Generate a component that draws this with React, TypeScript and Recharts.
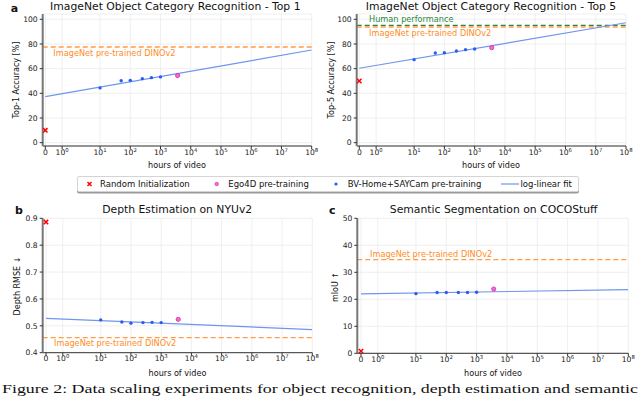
import React from "react";
import {
  ComposedChart,
  Line,
  Scatter,
  XAxis,
  YAxis,
  CartesianGrid,
  ReferenceLine,
} from "recharts";

// hours of video for each group of runs
const bvHours = [10, 50, 100, 250, 500, 1000];
const egoHours = [3670];
const randomHours = [0];
const fitHours = [0, 1e8];
const tickHours = [0, 1, 10, 100, 1e3, 1e4, 1e5, 1e6, 1e7, 1e8];

// a: top-1 accuracy
const top1Bv = [44.4, 50.2, 50.5, 51.9, 52.7, 53.3];
const top1Ego = [54.4];
const top1Random = [10.0];
const top1Fit = [37.3, 75.1];
const top1Dino = 77.6;

// top-5 accuracy
const top5Bv = [67.3, 72.7, 72.9, 74.3, 75.4, 75.9];
const top5Ego = [77.0];
const top5Random = [50.0];
const top5Fit = [60.3, 97.2];
const top5Dino = 93.8;
const top5Human = 95.1;

// b: depth rmse
const depthBv = [0.522, 0.514, 0.51, 0.512, 0.513, 0.512];
const depthEgo = [0.524];
const depthRandom = [0.886];
const depthFit = [0.528, 0.486];
const depthDino = 0.456;

// c: segmentation miou
const segBv = [22.1, 22.5, 22.5, 22.5, 22.5, 22.6];
const segEgo = [23.8];
const segRandom = [0.8];
const segFit = [22.0, 23.6];
const segDino = 34.7;

const ORANGE = "#ff9c45";
const ORANGE_TXT = "#ff8c1f";
const GREEN = "#2e8540";
const FIT = "#6e96ee";
const BLUE = "#2a5cf5";

// symlog, linthresh 2 (like matplotlib)
const symlog = (h: number) => {
  const lin = 1 / (1 - 1 / 10);
  return h <= 2 ? (h / 2) * lin : lin + Math.log10(h / 2);
};
const xMax = symlog(1e8);

const pts = (hours: number[], vals: number[]) =>
  hours.map((h, i) => ({ x: symlog(h), y: vals[i] }));

const XTick = (props: any) => {
  const { x, y, payload } = props;
  const i = tickHours.findIndex((h) => Math.abs(symlog(h) - payload.value) < 1e-6);
  const h = tickHours[i];
  return (
    <text x={x} y={y + 4.5} textAnchor="middle" fontSize={7.6} fill="#222">
      {h === 0 ? (
        "0"
      ) : (
        <>
          10
          <tspan dy={-3} fontSize={5.3}>
            {Math.round(Math.log10(h))}
          </tspan>
        </>
      )}
    </text>
  );
};

const blueDot = (p: any) => <circle cx={p.cx} cy={p.cy} r={1.7} fill={BLUE} />;
const pinkDot = (p: any) => (
  <circle cx={p.cx} cy={p.cy} r={2.1} fill="#f36ad0" stroke="#d52aa8" strokeWidth={0.8} />
);
const redCross = (p: any) => {
  const { cx, cy } = p;
  const s = 2.2;
  return (
    <path
      d={`M${cx - s},${cy - s}L${cx + s},${cy + s}M${cx - s},${cy + s}L${cx + s},${cy - s}`}
      stroke="#f00"
      strokeWidth={1.5}
    />
  );
};

type PanelProps = {
  box: number[];
  plot: number[];
  xMin: number;
  yDomain: number[];
  yTicks: number[];
  yFmt?: (v: number) => string;
  bv: number[];
  ego: number[];
  rand: number[];
  fit: number[];
  refs: { y: number; color: string }[];
};

const Panel = ({ box, plot, xMin, yDomain, yTicks, yFmt, bv, ego, rand, fit, refs }: PanelProps) => {
  const [bl, bt, bw, bh] = box;
  const [pl, pt, pr, pb] = plot;
  return (
    <div style={{ position: "absolute", left: bl, top: bt }}>
      <ComposedChart
        width={bw}
        height={bh}
        margin={{ top: pt - bt, right: bl + bw - pr, left: 0, bottom: 0 }}
      >
        <CartesianGrid stroke="#ebebeb" strokeWidth={0.8} />
        <XAxis
          type="number"
          dataKey="x"
          domain={[xMin, xMax]}
          ticks={tickHours.map(symlog)}
          interval={0}
          height={bt + bh - pb}
          tick={XTick}
          tickSize={3}
          tickMargin={1}
          tickLine={{ stroke: "#333" }}
          axisLine={{ stroke: "#333" }}
          allowDataOverflow
        />
        <YAxis
          type="number"
          dataKey="y"
          domain={yDomain}
          ticks={yTicks}
          interval={0}
          width={pl - bl}
          tickSize={3}
          tickMargin={2}
          tick={{ fontSize: 7.6, fill: "#222" }}
          tickFormatter={yFmt}
          tickLine={{ stroke: "#333" }}
          axisLine={{ stroke: "#777", strokeWidth: 2 }}
          allowDataOverflow
        />
        {refs.map((r, i) => (
          <ReferenceLine key={i} y={r.y} stroke={r.color} strokeDasharray="5 3" strokeWidth={1.4} />
        ))}
        <Line
          data={pts(fitHours, fit)}
          dataKey="y"
          stroke={FIT}
          strokeWidth={1.2}
          dot={false}
          isAnimationActive={false}
        />
        <Scatter data={pts(bvHours, bv)} dataKey="y" shape={blueDot} isAnimationActive={false} />
        <Scatter data={pts(egoHours, ego)} dataKey="y" shape={pinkDot} isAnimationActive={false} />
        <Scatter data={pts(randomHours, rand)} dataKey="y" shape={redCross} isAnimationActive={false} />
      </ComposedChart>
    </div>
  );
};

const T = ({ x, y, size, color = "#111", anchor = "middle", rotate = false, bold = false, children }: any) => (
  <div
    style={{
      position: "absolute",
      left: x,
      top: y,
      fontSize: size,
      color,
      fontWeight: bold ? "bold" : "normal",
      whiteSpace: "nowrap",
      lineHeight: 1,
      transform: `translate(${anchor === "middle" ? "-50%" : "0"}, -50%)${rotate ? " rotate(-90deg)" : ""}`,
    }}
  >
    {children}
  </div>
);

const App = () => {
  return (
    <div
      style={{
        position: "absolute",
        left: 0,
        top: 0,
        width: 640,
        height: 396,
        overflow: "hidden",
        background: "#fff",
        fontFamily: "'DejaVu Sans', sans-serif",
      }}
    >
      <Panel
        box={[0, 0, 320, 172]}
        plot={[42.7, 14, 311.7, 146]}
        xMin={-0.086}
        yDomain={[-2.7, 104.3]}
        yTicks={[0, 20, 40, 60, 80, 100]}
        bv={top1Bv}
        ego={top1Ego}
        rand={top1Random}
        fit={top1Fit}
        refs={[{ y: top1Dino, color: ORANGE }]}
      />
      <Panel
        box={[320, 0, 320, 172]}
        plot={[356.7, 14, 626, 146]}
        xMin={-0.086}
        yDomain={[-2.7, 104.3]}
        yTicks={[0, 20, 40, 60, 80, 100]}
        bv={top5Bv}
        ego={top5Ego}
        rand={top5Random}
        fit={top5Fit}
        refs={[
          { y: top5Dino, color: ORANGE },
          { y: top5Human, color: GREEN },
        ]}
      />
      <Panel
        box={[0, 200, 320, 185]}
        plot={[42.7, 218.3, 312.3, 352.7]}
        xMin={-0.109}
        yDomain={[0.4, 0.9]}
        yTicks={[0.4, 0.5, 0.6, 0.7, 0.8, 0.9]}
        yFmt={(v) => v.toFixed(1)}
        bv={depthBv}
        ego={depthEgo}
        rand={depthRandom}
        fit={depthFit}
        refs={[{ y: depthDino, color: ORANGE }]}
      />
      <Panel
        box={[320, 200, 320, 185]}
        plot={[357.3, 218.3, 628.3, 353.3]}
        xMin={-0.122}
        yDomain={[0, 50]}
        yTicks={[0, 10, 20, 30, 40, 50]}
        bv={segBv}
        ego={segEgo}
        rand={segRandom}
        fit={segFit}
        refs={[{ y: segDino, color: ORANGE }]}
      />

      {/* panel letters and titles */}
      <T x={14.5} y={8.3} size={11} bold>a</T>
      <T x={19} y={210} size={11} bold>b</T>
      <T x={332.3} y={210} size={11} bold>c</T>
      <T x={175.3} y={6.8} size={10.8}>ImageNet Object Category Recognition - Top 1</T>
      <T x={491} y={6.8} size={10.8}>ImageNet Object Category Recognition - Top 5</T>
      <T x={177.2} y={210} size={10.8}>Depth Estimation on NYUv2</T>
      <T x={493.7} y={210} size={10.8}>Semantic Segmentation on COCOStuff</T>

      {/* axis labels */}
      <T x={17.3} y={80} size={8} rotate>Top-1 Accuracy [%]</T>
      <T x={332} y={80} size={8} rotate>Top-5 Accuracy [%]</T>
      <T x={17.5} y={285.5} size={8} rotate>Depth RMSE ↓</T>
      <T x={336} y={286.5} size={8} rotate>mIoU ↑</T>
      <T x={177} y={164.5} size={8.1}>hours of video</T>
      <T x={491} y={164.5} size={8.1}>hours of video</T>
      <T x={177.5} y={373.3} size={8.1}>hours of video</T>
      <T x={493} y={372.7} size={8.1}>hours of video</T>

      {/* reference line labels */}
      <T x={53.3} y={52.7} size={8.2} color={ORANGE_TXT} anchor="start">ImageNet pre-trained DINOv2</T>
      <T x={369} y={19} size={8.2} color={GREEN} anchor="start">Human performance</T>
      <T x={369} y={33.3} size={8.2} color={ORANGE_TXT} anchor="start">ImageNet pre-trained DINOv2</T>
      <T x={54} y={343.3} size={8.2} color={ORANGE_TXT} anchor="start">ImageNet pre-trained DINOv2</T>
      <T x={370} y={254.3} size={8.2} color={ORANGE_TXT} anchor="start">ImageNet pre-trained DINOv2</T>

      {/* legend */}
      <div
        style={{
          position: "absolute",
          left: 77,
          top: 176,
          width: 500,
          height: 14,
          border: "1px solid #d4d4d4",
          borderRadius: 2,
          boxShadow: "0 1.5px 0 #9a9a9a",
          background: "#fff",
        }}
      />
      <svg style={{ position: "absolute", left: 0, top: 176 }} width={640} height={16}>
        <path d="M87.5,6L91.5,10M87.5,10L91.5,6" stroke="#f00" strokeWidth={1.5} />
        <circle cx={216.7} cy={8} r={1.8} fill="#f36ad0" stroke="#d52aa8" strokeWidth={0.6} />
        <circle cx={336} cy={8} r={1.6} fill={BLUE} />
        <line x1={501} y1={8} x2={519} y2={8} stroke={FIT} strokeWidth={1.2} />
      </svg>
      <T x={100} y={184} size={8.5} anchor="start">Random Initialization</T>
      <T x={228.3} y={184} size={8.5} anchor="start">Ego4D pre-training</T>
      <T x={347.7} y={184} size={8.5} anchor="start">BV-Home+SAYCam pre-training</T>
      <T x={520.5} y={184} size={8.5} anchor="start">log-linear fit</T>

      {/* caption */}
      <svg style={{ position: "absolute", left: 0, top: 378 }} width={640} height={18}>
        <text
          x={2}
          y={14.6}
          fontFamily="'Liberation Serif', serif"
          fontSize={12.5}
          textLength={636}
          lengthAdjust="spacingAndGlyphs"
          fill="#111"
        >
          Figure 2: Data scaling experiments for object recognition, depth estimation and semantic
        </text>
      </svg>
    </div>
  );
};

export default App;
